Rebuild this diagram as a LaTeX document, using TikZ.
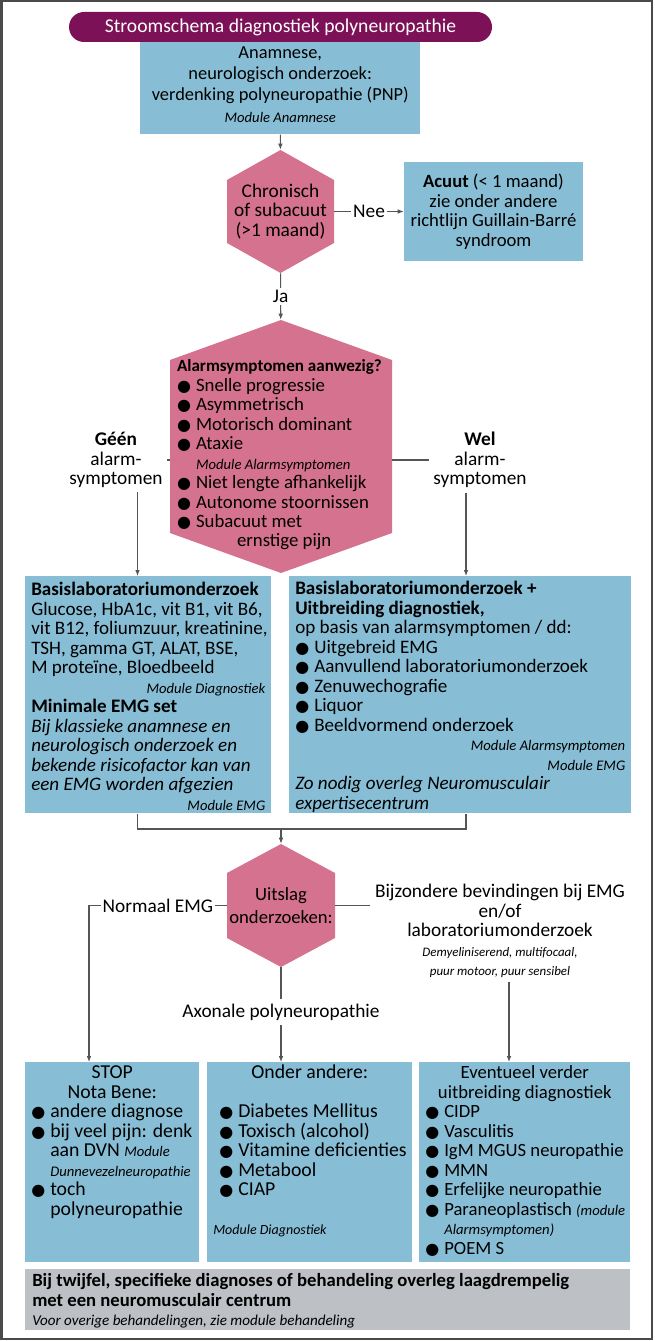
\documentclass[tikz,border=0pt]{standalone}
\usepackage{fontspec}
\setmainfont{Carlito}
\newfontfamily\bolfont{DejaVu Sans}
\usepackage{xcolor}
\usetikzlibrary{arrows.meta,calc}

\definecolor{paars}{HTML}{7C1157}
\definecolor{blauw}{HTML}{88BED5}
\definecolor{roze}{HTML}{D5728F}
\definecolor{grijs}{HTML}{BDC0C5}
\definecolor{lijnkleur}{HTML}{555555}
\definecolor{rand}{HTML}{4A4A4A}

\newlength\pxl
\setlength\pxl{0.75pt}
\newlength\vakb
\newcommand\fs[1]{\fontsize{#1}{14.6pt}\selectfont}
\newcommand\klein{\fontsize{11pt}{14.6pt}\selectfont\itshape}
\newcommand\kleiner{\fontsize{9.7pt}{14.6pt}\selectfont\itshape}
\newcommand\punt{\makebox[19\pxl][l]{\bolfont\fontsize{12pt}{14.6pt}\selectfont ●}}
\newcommand\vak[4]{\setlength\vakb{#1\pxl}\makebox[#1\pxl][l]{\begin{minipage}[t][#2\pxl][t]{2\vakb}\vspace*{#3\pxl}\strut#4\end{minipage}}}
\newcommand\rechts[1]{\makebox[\vakb][r]{#1}}
\newcommand\midden[1]{\makebox[\vakb]{#1}}

\begin{document}
\begin{tikzpicture}[x=0.75pt,y=-0.75pt,
  every node/.style={font=\fs{14.5pt}},
  blok/.style={fill=blauw, inner xsep=6\pxl, inner ysep=0pt, anchor=north west},
  zeshoek/.style={inner sep=0pt, align=center,
    path picture={\fill[roze] (path picture bounding box.north)
      -- ([yshift=-#1]path picture bounding box.north east)
      -- ([yshift=#1]path picture bounding box.south east)
      -- (path picture bounding box.south)
      -- ([yshift=#1]path picture bounding box.south west)
      -- ([yshift=-#1]path picture bounding box.north west) -- cycle;}},
  lijn/.style={draw=lijnkleur, line width=0.8pt},
  pijl/.style={lijn, -{Latex[length=4.5pt,width=3.5pt]}},
  lab/.style={fill=white, inner sep=1.5pt}]
  \useasboundingbox (0,0) rectangle (654,1341);
  % Frame
  \draw[rand, line width=1.5pt] (1.5,1.5) rectangle (651.5,1338.5);

  % Title and start
  \node[fill=paars, text=white, rounded corners=15\pxl, minimum width=423\pxl, minimum height=30\pxl,
    font=\fs{14.7pt}] (titel) at (280.5,27) {Stroomschema diagnostiek polyneuropathie};
  \node[blok, font=\fs{13.8pt}] (anam) at (140,42) {\vak{268}{92}{3}{\midden{Anamnese,}\\[1.5\pxl]
    \midden{neurologisch onderzoek:}\\[1.5\pxl]
    \midden{verdenking polyneuropathie (PNP)}\\[2\pxl]
    \midden{\klein Module Anamnese}}};

  % First question
  \node[zeshoek=30\pxl, minimum width=107\pxl, minimum height=123\pxl] (chron) at (280.5,211.5)
    {Chronisch\\of subacuut\\(>1 maand)};
  \node[fill=blauw, minimum width=179\pxl, minimum height=99\pxl, align=center, font=\fs{14pt}] (acuut) at (493.5,211.5)
    {\textbf{Acuut} (< 1 maand)\\zie onder andere\\richtlijn Guillain-Barré\\syndroom};

  % Alarm symptoms
  \node[zeshoek=40\pxl, minimum width=222\pxl, minimum height=253\pxl, font=\fs{14.1pt}] (alarm) at (281,446.5)
    {\makebox[208\pxl][l]{\begin{minipage}{400\pxl}\vspace*{17\pxl}
     {\fs{12.8pt}\textbf{Alarmsymptomen aanwezig?}}\\
     \punt Snelle progressie\\
     \punt Asymmetrisch\\
     \punt Motorisch dominant\\
     \punt Ataxie\\
     \hspace*{19\pxl}{\klein Module Alarmsymptomen}\\
     \punt Niet lengte afhankelijk\\
     \punt Autonome stoornissen\\
     \punt Subacuut met\\
     \hspace*{60\pxl}ernstige pijn
     \end{minipage}}};
  \node[align=center] (geen) at (116,460) {\textbf{Géén}\\alarm-\\symptomen};
  \node[align=center] (wel) at (480,460) {\textbf{Wel}\\alarm-\\symptomen};

  % Lab and EMG
  \node[blok, font=\fs{14.3pt}] (basis) at (25,576) {\vak{234}{237}{6}{\textbf{Basislaboratoriumonderzoek}\\
    Glucose, HbA1c, vit B1, vit B6,\\
    vit B12, foliumzuur, kreatinine,\\
    TSH, gamma GT, ALAT, BSE,\\
    M proteïne, Bloedbeeld\\
    \rechts{\klein Module Diagnostiek}\\
    \textbf{Minimale EMG set}\\
    \textit{Bij klassieke anamnese en}\\
    \textit{neurologisch onderzoek en}\\
    \textit{bekende risicofactor kan van}\\
    \textit{een EMG worden afgezien}\\
    \rechts{\klein Module EMG}}};
  \node[blok, font=\fs{14.3pt}] (uitbr) at (289,576) {\vak{330}{237}{5}{\textbf{Basislaboratoriumonderzoek +}\\
    \textbf{Uitbreiding diagnostiek,}\\
    op basis van alarmsymptomen / dd:\\
    \punt Uitgebreid EMG\\
    \punt Aanvullend laboratoriumonderzoek\\
    \punt Zenuwechografie\\
    \punt Liquor\\
    \punt Beeldvormend onderzoek\\
    \rechts{\klein Module Alarmsymptomen}\\
    \rechts{\klein Module EMG}\\
    \textit{Zo nodig overleg Neuromusculair}\\
    \textit{expertisecentrum}}};

  % Results
  \node[zeshoek=29\pxl, minimum width=108\pxl, minimum height=123\pxl, font=\fs{14pt}] (uitslag) at (281,905.5)
    {Uitslag\\[3.5\pxl]onderzoeken:};
  \node[align=center] (bijz) at (500,931) {Bijzondere bevindingen bij EMG\\en/of\\laboratoriumonderzoek\\
    {\kleiner Demyeliniserend, multifocaal,}\\{\kleiner puur motoor, puur sensibel}};
  \node (axon) at (281,1012) {Axonale polyneuropathie};

  % Outcomes
  \node[blok, font=\fs{14.8pt}] (stop) at (25,1062) {\vak{162}{200}{3}{\midden{STOP}\\
    \midden{Nota Bene:}\\
    \punt andere diagnose\\
    \punt bij veel pijn: denk\\
    \hspace*{19\pxl}aan DVN {\klein Module}\\
    \hspace*{19\pxl}{\klein Dunnevezelneuropathie}\\
    \punt toch\\
    \hspace*{19\pxl}polyneuropathie}};
  \node[blok, font=\fs{14.8pt}] (onder) at (207,1062) {\vak{193}{200}{3}{\midden{Onder andere:}\\
    \mbox{}\\
    \hspace*{6\pxl}\punt Diabetes Mellitus\\
    \hspace*{6\pxl}\punt Toxisch (alcohol)\\
    \hspace*{6\pxl}\punt Vitamine deficienties\\
    \hspace*{6\pxl}\punt Metabool\\
    \hspace*{6\pxl}\punt CIAP\\
    \mbox{}\\
    {\fontsize{10.5pt}{14.6pt}\selectfont\itshape Module Diagnostiek}}};
  \node[blok, font=\fs{14pt}] (verder) at (419,1062) {\vak{199}{200}{3}{\midden{Eventueel verder}\\
    \midden{uitbreiding diagnostiek}\\
    \punt CIDP\\
    \punt Vasculitis\\
    \punt IgM MGUS neuropathie\\
    \punt MMN\\
    \punt Erfelijke neuropathie\\
    \punt Paraneoplastisch {\klein (module}\\
    \hspace*{19\pxl}{\klein Alarmsymptomen)}\\
    \punt POEM S}};
  \node[blok, fill=grijs, inner xsep=7\pxl, font=\fs{14pt}] (twijfel) at (25,1269) {\vak{591}{61}{4}{%
    \textbf{Bij twijfel, specifieke diagnoses of behandeling overleg laagdrempelig}\\
    \textbf{met een neuromusculair centrum}\\
    {\fontsize{11.3pt}{14.6pt}\selectfont\itshape Voor overige behandelingen, zie module behandeling}}};

  % Columns for the connectors
  \coordinate (kolA) at (89,0);
  \coordinate (links) at (137.5,0);
  \coordinate (rechts) at (466,0);
  \coordinate (kolC) at (509,0);
  \coordinate (samen) at (281,829);

  % Connectors
  \draw[pijl] (anam) -- (chron);
  \draw[pijl] (chron) -- node[lab] {Nee} (acuut);
  \draw[pijl] (chron) -- node[lab] {Ja} (alarm);
  \draw[lijn] (alarm.west |- geen.east) -- (geen.east);
  \draw[lijn] (alarm.east |- wel.west) -- (wel.west);
  \draw[pijl] (geen.south -| links) -- (basis.north -| links);
  \draw[pijl] (wel.south -| rechts) -- (uitbr.north -| rechts);
  \draw[lijn] (basis.south -| links) |- (samen) -| (uitbr.south -| rechts);
  \draw[pijl] (samen) -- (uitslag);
  \draw[pijl] (uitslag.west) -| node[lab, pos=0.25] {Normaal EMG} (stop.north -| kolA);
  \draw[lijn] (uitslag.east) -- (uitslag.east -| bijz.west);
  \draw[pijl] (bijz.south -| kolC) -- (verder.north -| kolC);
  \draw[lijn] (uitslag) -- (axon);
  \draw[pijl] (axon) -- (axon |- onder.north);
\end{tikzpicture}
\end{document}
